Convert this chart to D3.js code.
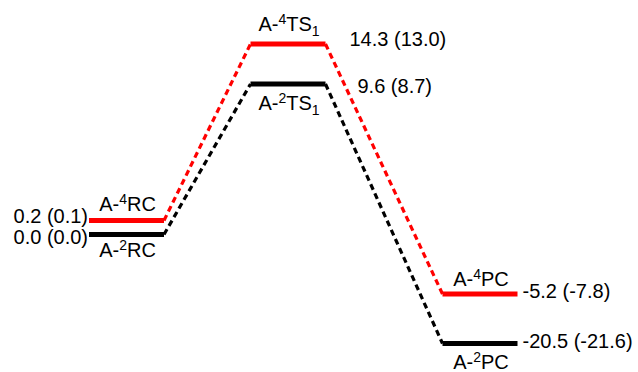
<!DOCTYPE html>
<html>
<head>
<meta charset="utf-8">
<script src="https://cdn.jsdelivr.net/npm/d3@7/dist/d3.min.js"></script>
<style>
  html, body { margin: 0; padding: 0; background: #fff; }
  svg { display: block; }
  text { font-family: "Liberation Sans", Arial, sans-serif; fill: #000; }
</style>
</head>
<body>
<svg id="chart" width="638" height="372"></svg>
<script>
// Reaction stages along the path
const stages = ["RC", "TS", "PC"];
const stageSub = ["", "1", ""];

// Relative energies (kcal/mol) and the values in parentheses
const quartetEnergy    = [0.2, 14.3, -5.2];
const quartetEnergyAlt = [0.1, 13.0, -7.8];
const doubletEnergy    = [0.0, 9.6, -20.5];
const doubletEnergyAlt = [0.0, 8.7, -21.6];

// Spin multiplicities
const multiplicities = ["4", "2"];

// ---- layout ----
const W = 638, H = 372;
const barW = 75;
const stageX = [126.5, 288, 480];
// vertical stops of the schematic (broken) energy axis, one per distinct level
const levelY = [343.5, 294, 234.5, 220.5, 84, 44];
const fontMain = 20, fontScript = 14;

const series = [
  { mult: multiplicities[0], color: "#ff0000", e: quartetEnergy, alt: quartetEnergyAlt,
    nameDy: [-10, -13, -8.5], valDy: [2.5, 2, 4], valDx: [0, 24, 5] },
  { mult: multiplicities[1], color: "#000000", e: doubletEnergy, alt: doubletEnergyAlt,
    nameDy: [22, 26, 25], valDy: [9.5, 9, 4.5], valDx: [0, 32, 5] }
];

const svg = d3.select("#chart");

const x = d3.scaleOrdinal().domain(stages).range(stageX);
const allE = d3.sort([...quartetEnergy, ...doubletEnergy]);
const y = d3.scaleLinear().domain(allE).range(levelY);

const fmt = v => v.toFixed(1);

series.forEach(s => {
  const g = svg.append("g");
  const pts = stages.map((st, i) => ({ st, i, e: s.e[i], alt: s.alt[i] }));

  // dashed connectors between consecutive levels
  g.selectAll("line.conn")
    .data(d3.pairs(pts))
    .join("line")
    .attr("class", "conn")
    .attr("x1", d => x(d[0].st) + barW / 2)
    .attr("y1", d => y(d[0].e))
    .attr("x2", d => x(d[1].st) - barW / 2)
    .attr("y2", d => y(d[1].e))
    .attr("stroke", s.color)
    .attr("stroke-width", 3.2)
    .attr("stroke-dasharray", "6,4");

  // energy levels
  g.selectAll("line.level")
    .data(pts)
    .join("line")
    .attr("class", "level")
    .attr("x1", d => x(d.st) - barW / 2)
    .attr("x2", d => x(d.st) + barW / 2)
    .attr("y1", d => y(d.e))
    .attr("y2", d => y(d.e))
    .attr("stroke", s.color)
    .attr("stroke-width", 5);

  // species names, e.g. A-4TS1
  pts.forEach(d => {
    const t = g.append("text")
      .attr("x", x(d.st) + 1)
      .attr("y", y(d.e) + s.nameDy[d.i])
      .attr("text-anchor", "middle")
      .attr("font-size", fontMain);
    t.append("tspan").text("A-");
    t.append("tspan").attr("font-size", fontScript).attr("dy", -7).text(s.mult);
    t.append("tspan").attr("dy", 7).text(d.st);
    if (stageSub[d.i]) {
      t.append("tspan").attr("font-size", fontScript).attr("dy", 5).text(stageSub[d.i]);
    }
  });

  // energy values
  pts.forEach(d => {
    const left = d.i === 0;
    g.append("text")
      .attr("x", left ? x(d.st) - barW / 2 - 1 : x(d.st) + barW / 2 + s.valDx[d.i])
      .attr("y", y(d.e) + s.valDy[d.i])
      .attr("text-anchor", left ? "end" : "start")
      .attr("font-size", fontMain)
      .text(`${fmt(d.e)} (${fmt(d.alt)})`);
  });
});
</script>
</body>
</html>
